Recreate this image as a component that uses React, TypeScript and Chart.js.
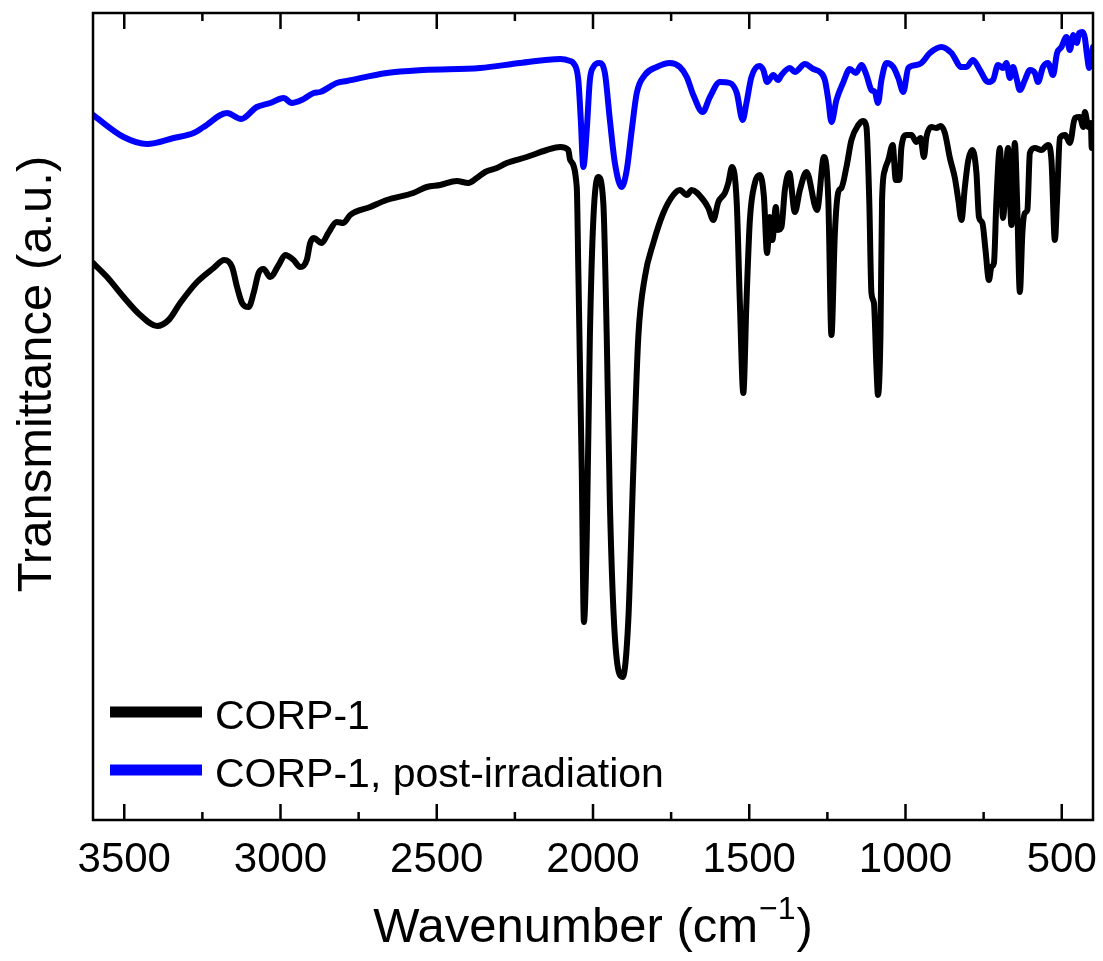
import React, { useEffect, useRef } from 'react';
import { Chart, registerables } from 'chart.js';

Chart.register(...registerables);

// ---- axis definitions ----
const X_MIN = 400;
const X_MAX = 3600;
const X_TICKS = [3500, 3000, 2500, 2000, 1500, 1000, 500];
const X_MINOR_TICKS = [3250, 2750, 2250, 1750, 1250, 750];
const Y_MIN = 0;
const Y_MAX = 807;

const SERIES_LABELS = ['CORP-1', 'CORP-1, post-irradiation'];
const SERIES_COLORS = ['#000000', '#0000ff'];
const X_TITLE_MAIN = 'Wavenumber (cm';
const X_TITLE_SUP = '\u22121';
const X_TITLE_END = ')';
const Y_TITLE = 'Transmittance (a.u.)';

// ---- CORP-1 (black) ----
const CORP1_WN = [
  3600, 3555, 3502, 3449, 3395, 3358, 3321, 3267, 3214, 3180, 3155, 3139, 3123, 3102, 3086, 3070,
  3054, 3033, 3006, 2985, 2958, 2937, 2916, 2905, 2894, 2868, 2847, 2820, 2799, 2777, 2713, 2660,
  2575, 2532, 2489, 2436, 2399, 2372, 2345, 2308, 2276, 2212, 2148, 2105, 2079, 2073, 2052, 2047,
  2036, 2029, 2020, 2010, 1999, 1983, 1967, 1956, 1946, 1930, 1905, 1887, 1871, 1855, 1834, 1807,
  1775, 1743, 1722, 1700, 1684, 1647, 1631, 1615, 1599, 1578, 1567, 1555, 1540, 1530, 1519, 1509,
  1498, 1482, 1466, 1453, 1443, 1434, 1426, 1415, 1408, 1397, 1386, 1372, 1354, 1338, 1317, 1283,
  1261, 1247, 1237, 1226, 1215, 1205, 1189, 1173, 1151, 1135, 1125, 1116, 1109, 1101, 1093, 1088,
  1080, 1075, 1066, 1055, 1041, 1031, 1020, 1013, 997, 981, 965, 952, 941, 933, 917, 901,
  888, 874, 858, 842, 831, 821, 810, 799, 786, 773, 765, 754, 744, 733, 725, 717,
  709, 698, 688, 672, 661, 650, 643, 634, 626, 618, 610, 602, 586, 565, 544, 533,
  522, 515, 506, 489, 474, 458, 442, 431, 426, 415, 407, 404, 400,
];
const CORP1_T = [
  557, 543, 523, 505, 494, 500, 517, 538, 552, 560, 553, 533, 517, 513, 527, 547,
  551, 543, 555, 565, 560, 553, 560, 577, 582, 577, 587, 598, 597, 605, 613, 620,
  627, 633, 635, 639, 637, 642, 648, 652, 657, 663, 670, 673, 670, 660, 633, 550,
  350, 198, 283, 483, 600, 643, 617, 483, 317, 183, 143, 200, 350, 483, 543, 577,
  607, 625, 630, 625, 630, 620, 612, 600, 618, 627, 637, 653, 617, 517, 427, 517,
  600, 637, 645, 623, 567, 603, 580, 613, 590, 593, 630, 647, 608, 630, 648, 610,
  663, 620, 485, 587, 628, 632, 653, 680, 695, 699, 693, 620, 527, 517, 453, 425,
  487, 620, 650, 660, 675, 640, 640, 673, 685, 685, 678, 682, 663, 683, 693, 692,
  694, 687, 662, 642, 620, 600, 633, 660, 670, 647, 603, 597, 570, 540, 553, 557,
  620, 672, 602, 672, 595, 677, 620, 528, 587, 607, 610, 667, 672, 670, 675, 660,
  580, 620, 682, 685, 677, 702, 703, 693, 708, 693, 697, 672, 673,
];

// ---- CORP-1, post-irradiation (blue) ----
const POST_WN = [
  3600, 3502, 3427, 3342, 3278, 3246, 3171, 3126, 3076, 3033, 2990, 2964, 2932, 2894, 2873, 2820,
  2788, 2660, 2543, 2361, 2233, 2105, 2073, 2063, 2047, 2039, 2031, 2020, 2010, 1999, 1980, 1962,
  1946, 1930, 1908, 1892, 1876, 1860, 1834, 1796, 1754, 1722, 1700, 1679, 1649, 1626, 1594, 1562,
  1540, 1521, 1509, 1493, 1468, 1455, 1443, 1423, 1407, 1397, 1370, 1354, 1322, 1295, 1274, 1258,
  1247, 1237, 1221, 1200, 1178, 1159, 1141, 1125, 1109, 1098, 1088, 1077, 1061, 1039, 1023, 1007,
  991, 965, 949, 922, 885, 853, 821, 805, 784, 762, 736, 720, 704, 688, 677, 666,
  656, 645, 634, 618, 602, 586, 576, 560, 544, 528, 515, 501, 485, 474, 463, 452,
  444, 434, 426, 420, 412, 404, 400,
];
const POST_T = [
  705, 683, 676, 682, 687, 693, 707, 701, 713, 717, 722, 717, 720, 727, 728, 737,
  739, 747, 750, 752, 757, 761, 759, 757, 740, 700, 653, 690, 740, 753, 757, 747,
  700, 657, 633, 650, 690, 727, 745, 753, 757, 753, 743, 725, 708, 723, 738, 737,
  727, 700, 717, 743, 754, 750, 738, 745, 740, 745, 752, 748, 756, 751, 748, 740,
  720, 698, 720, 737, 751, 747, 755, 745, 730, 728, 717, 740, 757, 753, 742, 728,
  752, 755, 757, 767, 773, 767, 753, 753, 760, 750, 738, 740, 755, 752, 757, 742,
  753, 742, 730, 740, 750, 747, 738, 753, 757, 745, 767, 773, 783, 770, 785, 777,
  787, 788, 782, 767, 752, 767, 773,
];

const FONT = '"Liberation Sans", Arial, Helvetica, sans-serif';

const decorPlugin = {
  id: 'decor',
  afterDatasetsDraw(chart: any) {
    const { ctx, chartArea, scales } = chart;
    const { left, right, top, bottom } = chartArea;
    const x = scales.x;
    ctx.save();
    ctx.strokeStyle = '#000';
    ctx.lineWidth = 2.5;
    ctx.lineCap = 'butt';
    ctx.strokeRect(left, top, right - left, bottom - top);
    const drawTick = (v: number, len: number) => {
      const px = x.getPixelForValue(v);
      ctx.beginPath();
      ctx.moveTo(px, bottom);
      ctx.lineTo(px, bottom - len);
      ctx.moveTo(px, top);
      ctx.lineTo(px, top + len);
      ctx.stroke();
    };
    X_TICKS.forEach((v) => drawTick(v, 16));
    X_MINOR_TICKS.forEach((v) => drawTick(v, 8));

    // legend
    const legendY = [712, 770];
    const baseY = [729, 787];
    chart.data.datasets.forEach((ds: any, i: number) => {
      ctx.strokeStyle = ds.borderColor;
      ctx.lineWidth = 11;
      ctx.beginPath();
      ctx.moveTo(110, legendY[i]);
      ctx.lineTo(202, legendY[i]);
      ctx.stroke();
      ctx.fillStyle = '#000';
      ctx.font = `41px ${FONT}`;
      ctx.textAlign = 'left';
      ctx.textBaseline = 'alphabetic';
      ctx.fillText(ds.label, 215, baseY[i]);
    });

    // x title with superscript
    ctx.fillStyle = '#000';
    ctx.textBaseline = 'alphabetic';
    ctx.textAlign = 'left';
    const mainFont = `49px ${FONT}`;
    const supFont = `32px ${FONT}`;
    ctx.font = mainFont;
    const w1 = ctx.measureText(X_TITLE_MAIN).width;
    const w3 = ctx.measureText(X_TITLE_END).width;
    ctx.font = supFont;
    const w2 = ctx.measureText(X_TITLE_SUP).width;
    const cx = (left + right) / 2;
    let sx = cx - (w1 + w2 + w3 + 2) / 2;
    const by = 942;
    ctx.font = mainFont;
    ctx.fillText(X_TITLE_MAIN, sx, by);
    sx += w1 + 1;
    ctx.font = supFont;
    ctx.fillText(X_TITLE_SUP, sx, by - 23);
    sx += w2 + 1;
    ctx.font = mainFont;
    ctx.fillText(X_TITLE_END, sx, by);

    // y title
    ctx.save();
    ctx.translate(51, 374);
    ctx.rotate(-Math.PI / 2);
    ctx.font = `49px ${FONT}`;
    ctx.textAlign = 'center';
    ctx.textBaseline = 'alphabetic';
    ctx.fillText(Y_TITLE, 0, 0);
    ctx.restore();

    ctx.restore();
  },
};

export default function App() {
  const canvasRef = useRef<HTMLCanvasElement | null>(null);

  useEffect(() => {
    document.body.style.margin = '0';
    const canvas = canvasRef.current;
    if (!canvas) return;
    const chart = new Chart(canvas, {
      type: 'line',
      data: {
        datasets: [
          {
            label: SERIES_LABELS[0],
            data: CORP1_WN.map((w, i) => ({ x: w, y: CORP1_T[i] })),
            borderColor: SERIES_COLORS[0],
            backgroundColor: SERIES_COLORS[0],
            borderWidth: 6,
            pointRadius: 0,
            cubicInterpolationMode: 'monotone',
            borderJoinStyle: 'round',
            borderCapStyle: 'round',
            fill: false,
          },
          {
            label: SERIES_LABELS[1],
            data: POST_WN.map((w, i) => ({ x: w, y: POST_T[i] })),
            borderColor: SERIES_COLORS[1],
            backgroundColor: SERIES_COLORS[1],
            borderWidth: 6,
            pointRadius: 0,
            cubicInterpolationMode: 'monotone',
            borderJoinStyle: 'round',
            borderCapStyle: 'round',
            fill: false,
          },
        ],
      },
      options: {
        responsive: false,
        animation: false,
        devicePixelRatio: 1,
        layout: { padding: { left: 93, right: 10, top: 13, bottom: 0 } },
        plugins: {
          legend: { display: false },
          tooltip: { enabled: false },
          title: { display: false },
        },
        scales: {
          x: {
            type: 'linear',
            reverse: true,
            min: X_MIN,
            max: X_MAX,
            grid: { display: false, drawTicks: false },
            border: { display: false },
            afterBuildTicks: (scale: any) => {
              scale.ticks = X_TICKS.map((v) => ({ value: v }));
            },
            afterFit: (scale: any) => {
              scale.height = 141;
              scale.paddingLeft = 0;
              scale.paddingRight = 0;
            },
            ticks: {
              color: '#000',
              padding: 15,
              maxRotation: 0,
              autoSkip: false,
              font: { family: FONT, size: 42 },
              callback: (v: any) => String(v),
            },
          },
          y: {
            display: false,
            min: Y_MIN,
            max: Y_MAX,
          },
        },
      },
      plugins: [decorPlugin],
    });
    return () => chart.destroy();
  }, []);

  return (
    <canvas
      ref={canvasRef}
      width={1103}
      height={961}
      style={{ display: 'block', width: 1103, height: 961 }}
    />
  );
}
